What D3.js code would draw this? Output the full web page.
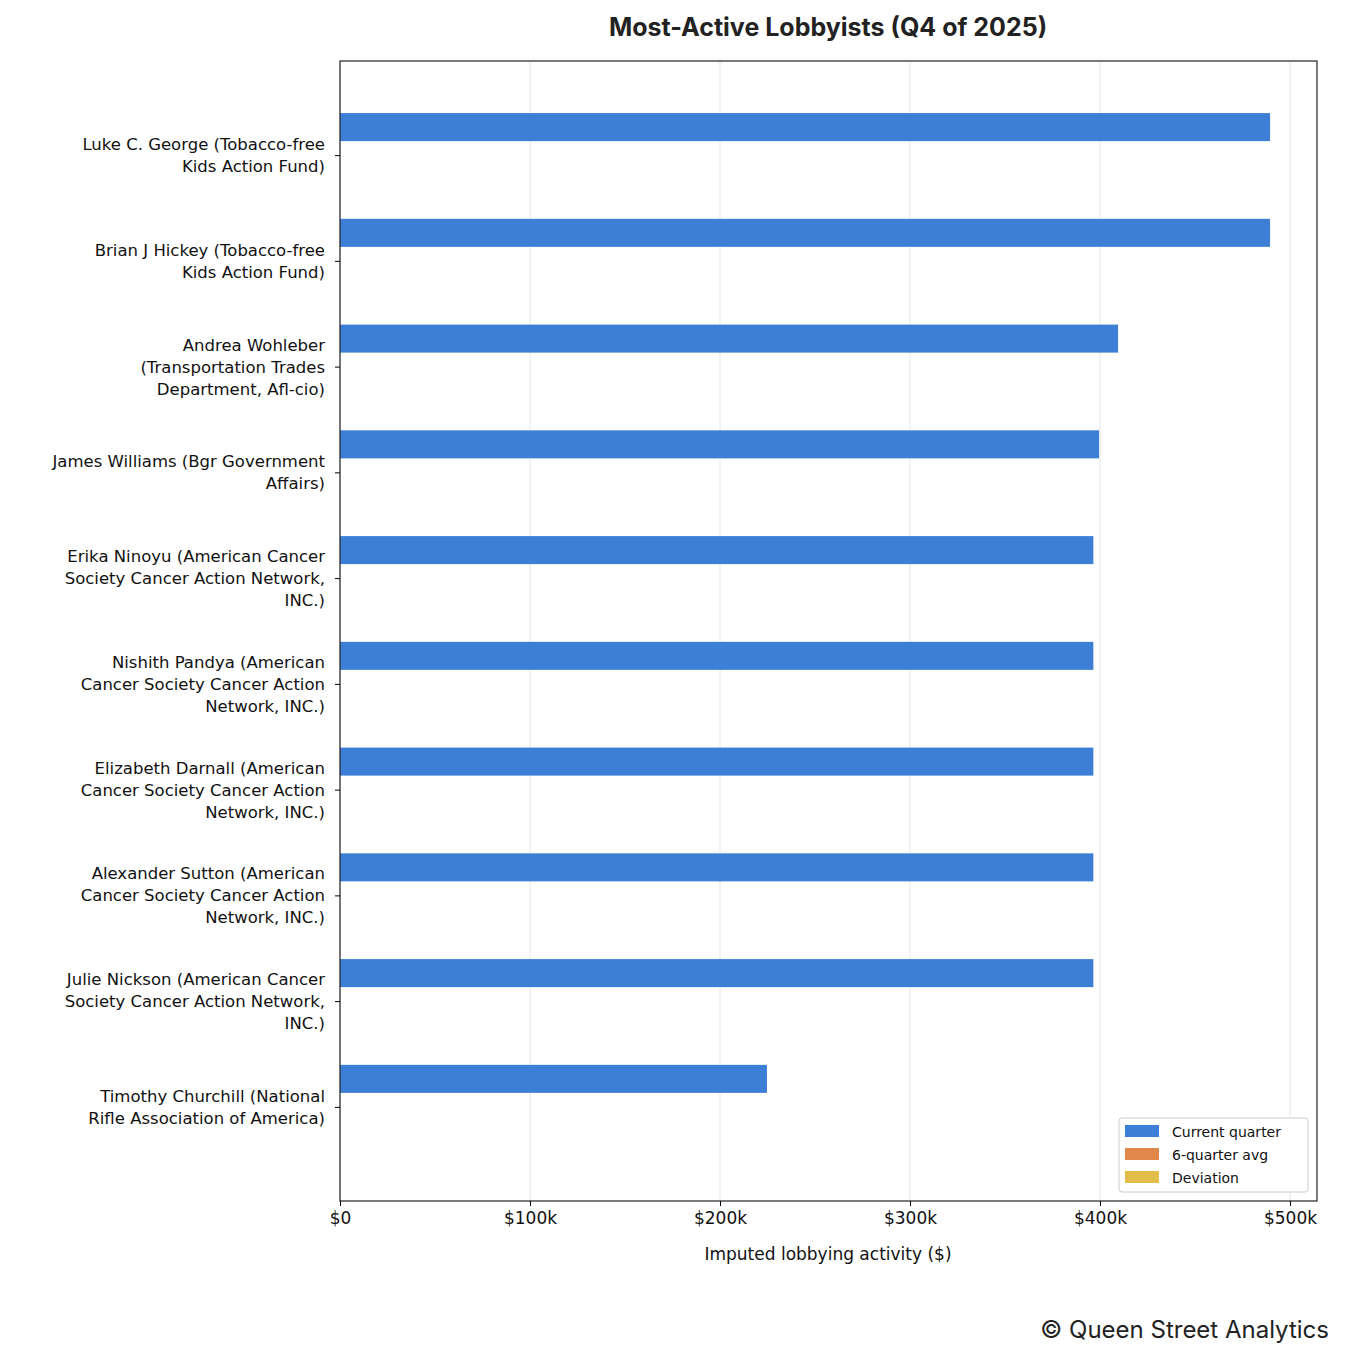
<!DOCTYPE html>
<html><head><meta charset="utf-8">
<script src="https://cdn.jsdelivr.net/npm/d3@7"></script>
<style>body{margin:0;background:#fff;font-family:"DejaVu Sans",sans-serif;}</style>
</head><body>
<svg id="c" width="1345" height="1359"></svg>
<script>
const categories = [
 ["Luke C. George (Tobacco-free","Kids Action Fund)"],
 ["Brian J Hickey (Tobacco-free","Kids Action Fund)"],
 ["Andrea Wohleber","(Transportation Trades","Department, Afl-cio)"],
 ["James Williams (Bgr Government","Affairs)"],
 ["Erika Ninoyu (American Cancer","Society Cancer Action Network,","INC.)"],
 ["Nishith Pandya (American","Cancer Society Cancer Action","Network, INC.)"],
 ["Elizabeth Darnall (American","Cancer Society Cancer Action","Network, INC.)"],
 ["Alexander Sutton (American","Cancer Society Cancer Action","Network, INC.)"],
 ["Julie Nickson (American Cancer","Society Cancer Action Network,","INC.)"],
 ["Timothy Churchill (National","Rifle Association of America)"]
];
const currentQuarter = [489500,489500,409500,399500,396500,396500,396500,396500,396500,224700];
const sixQuarterAvg = [0,0,0,0,0,0,0,0,0,0];
const deviation = [0,0,0,0,0,0,0,0,0,0];
const xTicks = [0,100000,200000,300000,400000,500000];
const xTickLabels = ["$0","$100k","$200k","$300k","$400k","$500k"];
const seriesNames = ["Current quarter","6-quarter avg","Deviation"];
const colors = ["#3d7fd6","#e0884a","#e3bd4a"];

const svg = d3.select("#c");
const L=340,R=1317,T=61,B=1201;
const x = d3.scaleLinear().domain([0,514200]).range([L,R]);
const y = d3.scaleLinear().domain([-0.89,9.89]).range([T,B]);
const bh = 0.265;

svg.append("g").selectAll("line").data(xTicks).join("line")
 .attr("x1",d=>x(d)).attr("x2",d=>x(d)).attr("y1",T).attr("y2",B)
 .attr("stroke","#e6e6e6").attr("stroke-width",1);

const series=[currentQuarter,sixQuarterAvg,deviation];
series.forEach((s,k)=>{
 svg.append("g").selectAll("rect").data(s).join("rect")
  .attr("x",x(0)).attr("width",d=>x(d)-x(0))
  .attr("y",(d,i)=>y(i+(k-1.5)*bh)).attr("height",y(bh)-y(0))
  .attr("fill",colors[k]);
});

svg.append("rect").attr("x",L).attr("y",T).attr("width",R-L).attr("height",B-T)
 .attr("fill","none").attr("stroke","#222").attr("stroke-width",1.2);

const xa = svg.append("g").attr("transform",`translate(0,${B})`)
 .call(d3.axisBottom(x).tickValues(xTicks).tickFormat((d,i)=>xTickLabels[i]).tickSize(5).tickPadding(6));
xa.select(".domain").remove();
xa.selectAll("text").attr("font-size",17).attr("fill","#111").attr("font-family","DejaVu Sans, sans-serif");

const ya = svg.append("g").attr("transform",`translate(${L},0)`)
 .call(d3.axisLeft(y).tickValues(d3.range(10)).tickFormat("").tickSize(5));
ya.select(".domain").remove();
categories.forEach((lines,i)=>{
 const n=lines.length, lh=22;
 const t=svg.append("text").attr("text-anchor","end").attr("font-size",16.5).attr("fill","#111");
 lines.forEach((l,j)=>t.append("tspan").attr("x",L-15).attr("y",y(i)+(j-(n-1)/2)*lh+6).text(l));
});

svg.append("text").attr("x",828).attr("y",36).attr("text-anchor","middle")
 .attr("font-family","Inter, sans-serif").attr("font-weight",700).attr("font-size",25).attr("fill","#222")
 .text("Most-Active Lobbyists (Q4 of 2025)");
svg.append("text").attr("x",828).attr("y",1260).attr("text-anchor","middle")
 .attr("font-size",17).attr("fill","#111").text("Imputed lobbying activity ($)");
svg.append("text").attr("x",1329).attr("y",1338).attr("text-anchor","end")
 .attr("font-family","Inter, sans-serif").attr("font-size",24).attr("fill","#222").text("© Queen Street Analytics");

const lg=svg.append("g");
lg.append("rect").attr("x",1119).attr("y",1118).attr("width",189).attr("height",74).attr("rx",3)
 .attr("fill","#fff").attr("stroke","#ccc");
seriesNames.forEach((s,i)=>{
 lg.append("rect").attr("x",1125).attr("y",1125+i*23).attr("width",34).attr("height",12).attr("fill",colors[i]);
 lg.append("text").attr("x",1172).attr("y",1137+i*23).attr("font-size",14).attr("fill","#111").text(s);
});
</script></body></html>
